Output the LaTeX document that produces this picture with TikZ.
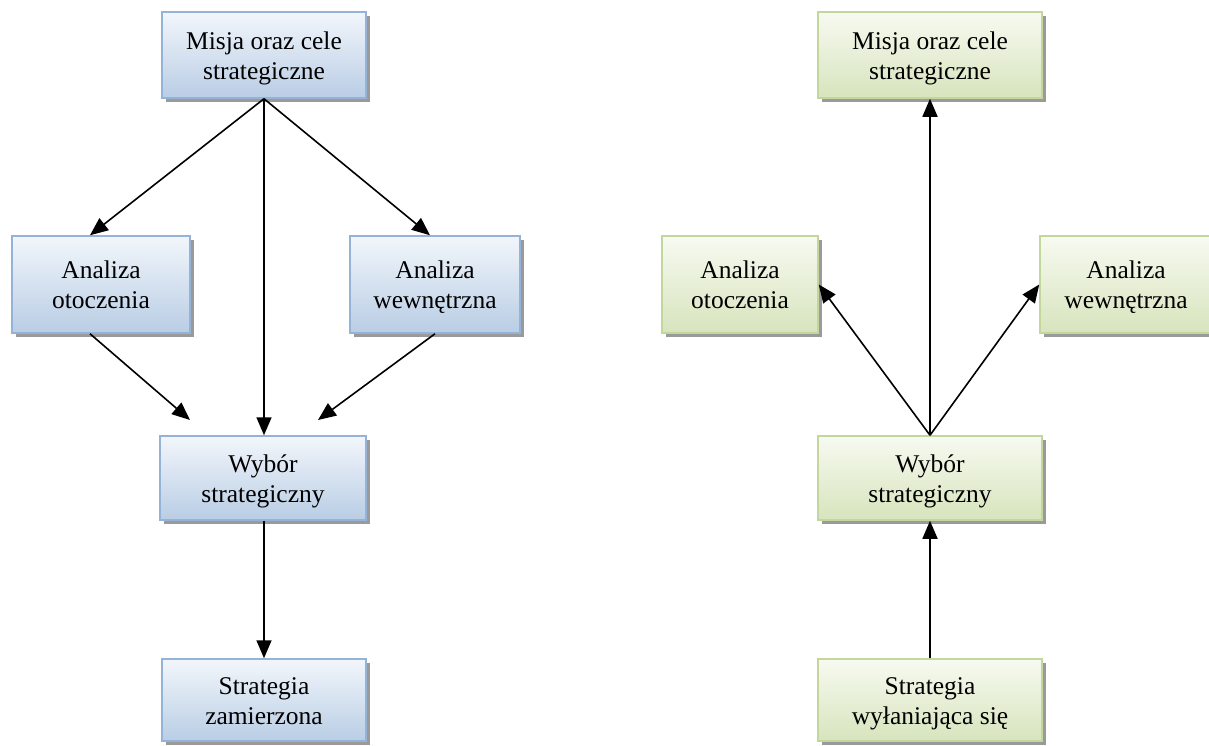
\documentclass[tikz,border=0pt]{standalone}
\usepackage{fontspec}
\setmainfont{Liberation Serif}
\usetikzlibrary{arrows.meta,shadows}
\definecolor{bluetop}{HTML}{F2F6FB}
\definecolor{bluebot}{HTML}{B9CDE5}
\definecolor{blueedge}{HTML}{95B3D7}
\definecolor{greentop}{HTML}{F7FAF1}
\definecolor{greenbot}{HTML}{D7E4BD}
\definecolor{greenedge}{HTML}{C3D69B}
\definecolor{shade}{HTML}{9A9A9A}
\newcommand{\ls}{\rule[-6pt]{0pt}{30pt}}
\begin{document}
\begin{tikzpicture}[x=1pt,y=-1pt,
  box/.style={rectangle, draw, line width=1.5pt, align=center, inner sep=0pt,
    font=\fontsize{25.5}{30}\selectfont,
    drop shadow={shadow xshift=4pt, shadow yshift=-4pt, fill=shade, opacity=1}},
  bluebox/.style={box, draw=blueedge, top color=bluetop, bottom color=bluebot},
  greenbox/.style={box, draw=greenedge, top color=greentop, bottom color=greenbot},
  arr/.style={line width=1.6pt, -{Triangle[length=18pt,width=15pt]}}]
\useasboundingbox (0,0) rectangle (1209,745);
% left diagram
\node[bluebox, minimum width=204pt, minimum height=86pt] (m1) at (264,55) {\ls Misja oraz cele\\\ls strategiczne};
\node[bluebox, minimum width=178pt, minimum height=97pt] (ao1) at (101,284.5) {\ls Analiza\\\ls otoczenia};
\node[bluebox, minimum width=170pt, minimum height=97pt] (aw1) at (435,284.5) {\ls Analiza\\\ls wewnętrzna};
\node[bluebox, minimum width=206pt, minimum height=84pt] (w1) at (263,478) {\ls Wybór\\\ls strategiczny};
\node[bluebox, minimum width=204pt, minimum height=82pt] (s1) at (264,700) {\ls Strategia\\\ls zamierzona};
\coordinate (wl) at (190,420);
\coordinate (wr) at (318,420);
\draw[arr] (m1.south) -- ([xshift=-11pt]ao1.north);
\draw[arr] (m1.south) -- (aw1.north -| 430,0);
\draw[arr] (m1.south) -- (w1.north -| m1.south);
\draw[arr] ([xshift=-11pt]ao1.south) -- (wl);
\draw[arr] (aw1.south) -- (wr);
\draw[arr] (w1.south -| s1.north) -- (s1.north);
% right diagram
\node[greenbox, minimum width=224pt, minimum height=86pt] (m2) at (930,55) {\ls Misja oraz cele\\\ls strategiczne};
\node[greenbox, minimum width=156pt, minimum height=97pt] (ao2) at (740,284.5) {\ls Analiza\\\ls otoczenia};
\node[greenbox, minimum width=172pt, minimum height=97pt] (aw2) at (1126,284.5) {\ls Analiza\\\ls wewnętrzna};
\node[greenbox, minimum width=224pt, minimum height=84pt] (w2) at (930,478) {\ls Wybór\\\ls strategiczny};
\node[greenbox, minimum width=224pt, minimum height=82pt] (s2) at (930,700) {\ls Strategia\\\ls wyłaniająca się};
\draw[arr] (w2.north) -- (m2.south);
\draw[arr] (w2.north) -- (ao2.east);
\draw[arr] (w2.north) -- (aw2.west);
\draw[arr] (s2.north) -- (w2.south);
\end{tikzpicture}
\end{document}
